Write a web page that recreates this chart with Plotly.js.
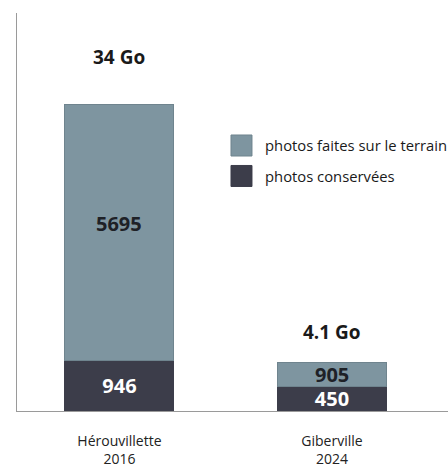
<!DOCTYPE html>
<html>
<head>
<meta charset="utf-8">
<script src="https://cdn.plot.ly/plotly-3.0.1.min.js"></script>
<style>html,body{margin:0;padding:0;background:#fff;}#chart{width:448px;height:467px;}</style>
</head>
<body>
<div id="chart"></div>
<script>
var categories = ["Hérouvillette<br>2016", "Giberville<br>2024"];
var photosFaites = [5695, 905];
var photosConservees = [946, 450];
var tailles = ["34 Go", "4.1 Go"];
var legendLabels = ["photos faites sur le terrain", "photos conservées"];

var FONT = "Open Sans, Noto Sans, sans-serif";
var GRAY = "#7e95a0";
var DARK = "#3c3d4a";

var remaining = photosFaites.map(function (v, i) { return v - photosConservees[i]; });

var traceDark = {
  type: "bar",
  x: categories,
  y: photosConservees,
  name: legendLabels[1],
  marker: { color: DARK, line: { color: DARK, width: 1 } },
  width: 0.513,
  text: photosConservees.map(String),
  textposition: "inside",
  insidetextanchor: "middle",
  constraintext: "none",
  textfont: { family: FONT, size: 20, color: "#ffffff", weight: 700 },
  hoverinfo: "none",
  showlegend: false
};
var traceGray = {
  type: "bar",
  x: categories,
  y: remaining,
  name: legendLabels[0],
  marker: { color: GRAY, line: { color: "#6f848e", width: 1 } },
  width: 0.513,
  hoverinfo: "none",
  showlegend: false
};

var annotations = [];
var goShift = [47, 30];
var faitesShift = [9, 0];
categories.forEach(function (c, i) {
  annotations.push({
    x: c, y: photosFaites[i], xref: "x", yref: "y",
    text: "<b>" + tailles[i] + "</b>", showarrow: false,
    yanchor: "middle", yshift: goShift[i],
    font: { family: FONT, size: 19, color: "#1a1a1a" }
  });
  annotations.push({
    x: c, y: (photosFaites[i] + photosConservees[i]) / 2, xref: "x", yref: "y",
    text: "<b>" + photosFaites[i] + "</b>", showarrow: false,
    yanchor: "middle", yshift: faitesShift[i],
    font: { family: FONT, size: 20, color: "#1e2127" }
  });
});

var legendY = [0.6671, 0.5905];
var legendColors = [GRAY, DARK];
var legendLines = ["#6f848e", DARK];
var shapes = [];
legendLabels.forEach(function (lab, i) {
  shapes.push({
    type: "rect", xref: "paper", yref: "paper",
    x0: 0.4965, x1: 0.5452,
    y0: legendY[i] - 0.0264, y1: legendY[i] + 0.0264,
    fillcolor: legendColors[i], line: { color: legendLines[i], width: 1 }
  });
  annotations.push({
    x: 0.5708, y: legendY[i], xref: "paper", yref: "paper",
    xanchor: "left", yanchor: "middle", text: lab, showarrow: false,
    font: { family: FONT, size: 14.8, color: "#1a1a1a" }
  });
});

var layout = {
  width: 448, height: 467,
  margin: { l: 17, r: 0, t: 13, b: 56 },
  paper_bgcolor: "#ffffff", plot_bgcolor: "#ffffff",
  barmode: "stack",
  showlegend: false,
  xaxis: {
    type: "category",
    range: [-0.482, 1.546],
    showline: true, linecolor: "#9a9a9a", linewidth: 1,
    showgrid: false, zeroline: false,
    ticks: "outside", ticklen: 17, tickcolor: "rgba(0,0,0,0)",
    tickfont: { family: FONT, size: 14, color: "#222222" }
  },
  yaxis: {
    range: [0, 7384],
    showline: true, linecolor: "#9a9a9a", linewidth: 1,
    showgrid: false, zeroline: false, showticklabels: false, ticks: ""
  },
  annotations: annotations,
  shapes: shapes
};

Plotly.newPlot("chart", [traceDark, traceGray], layout, { displayModeBar: false, staticPlot: true });
</script>
</body>
</html>
